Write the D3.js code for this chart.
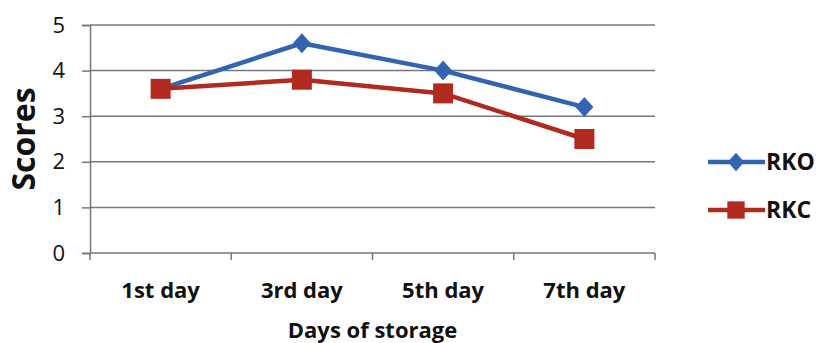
<!DOCTYPE html>
<html>
<head>
<meta charset="utf-8">
<script src="https://cdn.jsdelivr.net/npm/d3@7"></script>
<style>
  html, body { margin: 0; padding: 0; background: #fff; }
  svg { display: block; }
  text { font-family: "Open Sans", "Noto Sans", sans-serif; fill: #111; }
</style>
</head>
<body>
<svg id="chart" width="819" height="343"></svg>
<script>
// Sensory scores over days of storage
const days = ["1st day", "3rd day", "5th day", "7th day"];
const rko = [3.6, 4.6, 4.0, 3.2];
const rkc = [3.6, 3.8, 3.5, 2.5];
const yTicks = [0, 1, 2, 3, 4, 5];
const seriesNames = ["RKO", "RKC"];

const series = [
  { name: seriesNames[0], values: rko, color: "#3264b2", marker: "diamond" },
  { name: seriesNames[1], values: rkc, color: "#b02a1f", marker: "square" }
];

const svg = d3.select("#chart");
const plot = { left: 90, right: 655, top: 25, bottom: 253 };

const x = d3.scaleBand().domain(days).range([plot.left, plot.right]);
const y = d3.scaleLinear().domain([0, 5]).range([plot.bottom, plot.top]);

// horizontal gridlines
svg.append("g")
  .selectAll("line")
  .data(yTicks.filter(d => d > 0))
  .join("line")
  .attr("x1", plot.left).attr("x2", plot.right)
  .attr("y1", d => y(d)).attr("y2", d => y(d))
  .attr("stroke", "#76767e").attr("stroke-width", 1.5);

// y axis
const yAxis = svg.append("g")
  .attr("transform", `translate(${plot.left},0)`)
  .call(d3.axisLeft(y).tickValues(yTicks).tickFormat(d3.format("d")).tickSize(8).tickPadding(17));
yAxis.select(".domain").attr("stroke", "#76767e").attr("stroke-width", 1.5);
yAxis.selectAll(".tick line").attr("stroke", "#76767e").attr("stroke-width", 1.5);
yAxis.selectAll(".tick text")
  .style("font-size", "22px").style("font-family", "\"Open Sans\", sans-serif")
  .attr("fill", "#111");

// x axis with ticks at category boundaries
const xAxisG = svg.append("g").attr("transform", `translate(0,${plot.bottom})`);
xAxisG.append("line")
  .attr("x1", plot.left).attr("x2", plot.right)
  .attr("stroke", "#76767e").attr("stroke-width", 1.5);
const boundaries = days.map(d => x(d)).concat([x(days[days.length - 1]) + x.bandwidth()]);
xAxisG.selectAll("line.bt")
  .data(boundaries)
  .join("line").attr("class", "bt")
  .attr("x1", d => d).attr("x2", d => d)
  .attr("y1", 0).attr("y2", 7)
  .attr("stroke", "#76767e").attr("stroke-width", 1.5);
xAxisG.selectAll("text")
  .data(days)
  .join("text")
  .attr("x", d => x(d) + x.bandwidth() / 2)
  .attr("y", 45)
  .attr("text-anchor", "middle")
  .style("font-size", "22px").style("font-weight", "bold")
  .text(d => d);

// axis titles
svg.append("text")
  .attr("transform", `translate(35,139) rotate(-90)`)
  .attr("text-anchor", "middle")
  .style("font-size", "32px").style("font-weight", "bold")
  .text("Scores");
svg.append("text")
  .attr("x", (plot.left + plot.right) / 2)
  .attr("y", 338)
  .attr("text-anchor", "middle")
  .style("font-size", "22px").style("font-weight", "bold")
  .text("Days of storage");

// series lines and markers
const line = d3.line()
  .x((d, i) => x(days[i]) + x.bandwidth() / 2)
  .y(d => y(d));

// rhombus marker, slightly taller than wide
const rhombus = {
  draw(ctx, size) {
    const h = Math.sqrt(size / 1.8);
    const w = h * 0.9;
    ctx.moveTo(0, -h);
    ctx.lineTo(w, 0);
    ctx.lineTo(0, h);
    ctx.lineTo(-w, 0);
    ctx.closePath();
  }
};
const diamond = d3.symbol().type(rhombus).size(180);
const square = d3.symbol().type(d3.symbolSquare).size(400);

series.forEach(s => {
  svg.append("path")
    .datum(s.values)
    .attr("d", line)
    .attr("fill", "none")
    .attr("stroke", s.color)
    .attr("stroke-width", 4.5)
    .attr("stroke-linejoin", "round");
  svg.append("g")
    .selectAll("path")
    .data(s.values)
    .join("path")
    .attr("transform", (d, i) => `translate(${x(days[i]) + x.bandwidth() / 2},${y(d)})`)
    .attr("d", s.marker === "diamond" ? diamond() : square())
    .attr("fill", s.color);
});

// legend
const legendDiamond = d3.symbol().type(rhombus).size(150);
const legendSquare = d3.symbol().type(d3.symbolSquare).size(300);
const legend = svg.append("g");
series.forEach((s, i) => {
  const ly = 162 + i * 48;
  legend.append("line")
    .attr("x1", 708).attr("x2", 765)
    .attr("y1", ly).attr("y2", ly)
    .attr("stroke", s.color).attr("stroke-width", 4.5);
  legend.append("path")
    .attr("transform", `translate(736,${ly})`)
    .attr("d", s.marker === "diamond" ? legendDiamond() : legendSquare())
    .attr("fill", s.color);
  legend.append("text")
    .attr("x", 766).attr("y", ly + 8)
    .style("font-size", "23px").style("font-weight", "bold")
    .text(s.name);
});
</script>
</body>
</html>
